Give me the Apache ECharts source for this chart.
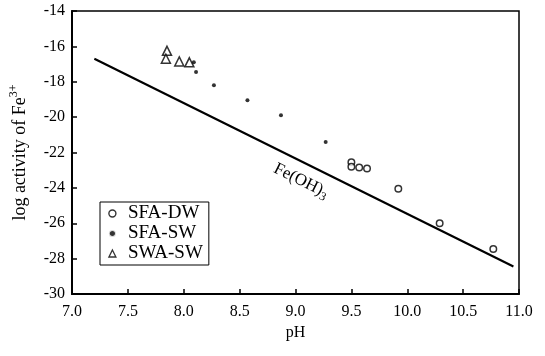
<!DOCTYPE html>
<html>
<head>
<meta charset="utf-8">
<script src="https://cdn.jsdelivr.net/npm/echarts@6/dist/echarts.min.js"></script>
<style>html,body{margin:0;padding:0;background:#fff;}#c{width:545px;height:356px;}</style>
</head>
<body>
<div id="c"></div>
<script>
// Data
var sfaDW = [[9.50,-22.55],[9.50,-22.8],[9.57,-22.85],[9.64,-22.9],[9.92,-24.05],[10.29,-26.0],[10.77,-27.45]];
var sfaSW = [[8.09,-16.9],[8.11,-17.45],[8.27,-18.2],[8.57,-19.05],[8.87,-19.9],[9.27,-21.4]];
var swaSW = [[7.85,-16.25],[7.84,-16.7],[7.96,-16.85],[8.05,-16.9]];
var feOH3Line = [[7.2,-16.7],[10.95,-28.45]];
var feOH3LabelAt = [9.05, -23.6];
var xTicks = {min:7.0, max:11.0, step:0.5};
var yTicks = {min:-30, max:-14, step:2};

var FONT = 'Liberation Serif';
var chart = echarts.init(document.getElementById('c'), null, {renderer:'canvas'});
chart.setOption({
  animation:false,
  backgroundColor:'#fff',
  grid:{left:70, right:26, top:11, bottom:62, show:true, borderColor:'#000', borderWidth:1.5},
  xAxis:{
    type:'value', min:xTicks.min, max:xTicks.max, interval:xTicks.step,
    name:'pH', nameLocation:'middle', nameGap:31,
    nameTextStyle:{fontFamily:FONT, fontSize:16, color:'#000'},
    axisLine:{lineStyle:{color:'#000', width:2}},
    axisTick:{inside:true, length:5, lineStyle:{color:'#000', width:1.5}},
    axisLabel:{fontFamily:FONT, fontSize:16, color:'#000', margin:10, formatter:function(v){return v.toFixed(1);}},
    splitLine:{show:false}
  },
  yAxis:{
    type:'value', min:yTicks.min, max:yTicks.max, interval:yTicks.step,
    name:'{a|log activity of Fe}{s|3+}', nameLocation:'middle', nameGap:40, nameRotate:90,
    nameTextStyle:{fontFamily:FONT, color:'#000', rich:{
      a:{fontFamily:FONT, fontSize:18, color:'#000'},
      s:{fontFamily:FONT, fontSize:12, color:'#000', padding:[0,0,12,0]}
    }},
    axisLine:{lineStyle:{color:'#000', width:2}},
    axisTick:{inside:true, length:5, lineStyle:{color:'#000', width:1.5}},
    axisLabel:{fontFamily:FONT, fontSize:16, color:'#000', margin:7},
    splitLine:{show:false}
  },
  legend:{
    orient:'vertical', left:100, top:202, padding:[2,6,2,8], itemGap:1,
    borderColor:'#000', borderWidth:1, backgroundColor:'#fff',
    itemWidth:7, itemHeight:7,
    textStyle:{fontFamily:FONT, fontSize:19, color:'#000', padding:[0,0,0,7]},
    data:[
      {name:'SFA-DW', icon:'circle', itemStyle:{color:'#fff', borderColor:'#000', borderWidth:1.4}},
      {name:'SFA-SW', icon:'circle', itemStyle:{color:'#000', borderColor:'#fff', borderWidth:1.8}},
      {name:'SWA-SW', icon:'triangle', itemStyle:{color:'#fff', borderColor:'#000', borderWidth:1.3}}
    ]
  },
  series:[
    {
      name:'Fe(OH)3', type:'line', data:feOH3Line, symbol:'none', silent:true,
      lineStyle:{color:'#000', width:2.2}
    },
    {name:'SFA-DW', type:'scatter', data:sfaDW, symbol:'circle', symbolSize:6.5,
      itemStyle:{color:'#fff', borderColor:'#000', borderWidth:1.5}},
    {name:'SFA-SW', type:'scatter', data:sfaSW, symbol:'circle', symbolSize:4,
      itemStyle:{color:'#000'}},
    {name:'SWA-SW', type:'scatter', data:swaSW, symbol:'triangle', symbolSize:9,
      itemStyle:{color:'#fff', borderColor:'#000', borderWidth:1.5}}
  ]
});

// rotated curve label, positioned through the axes
var p0 = chart.convertToPixel({gridIndex:0}, feOH3Line[0]);
var p1 = chart.convertToPixel({gridIndex:0}, feOH3Line[1]);
var ang = Math.atan2(p1[1]-p0[1], p1[0]-p0[0]);
var pc = chart.convertToPixel({gridIndex:0}, feOH3LabelAt);
chart.setOption({
  graphic:[{
    type:'text', x:pc[0], y:pc[1], rotation:-ang, silent:true,
    style:{
      text:'{m|Fe(OH)}{b|3}', align:'center', verticalAlign:'middle',
      rich:{
        m:{fontFamily:FONT, fontSize:17, fill:'#000'},
        b:{fontFamily:FONT, fontSize:12, fill:'#000', padding:[10,0,0,0]}
      }
    }
  }]
});
</script>
</body>
</html>
